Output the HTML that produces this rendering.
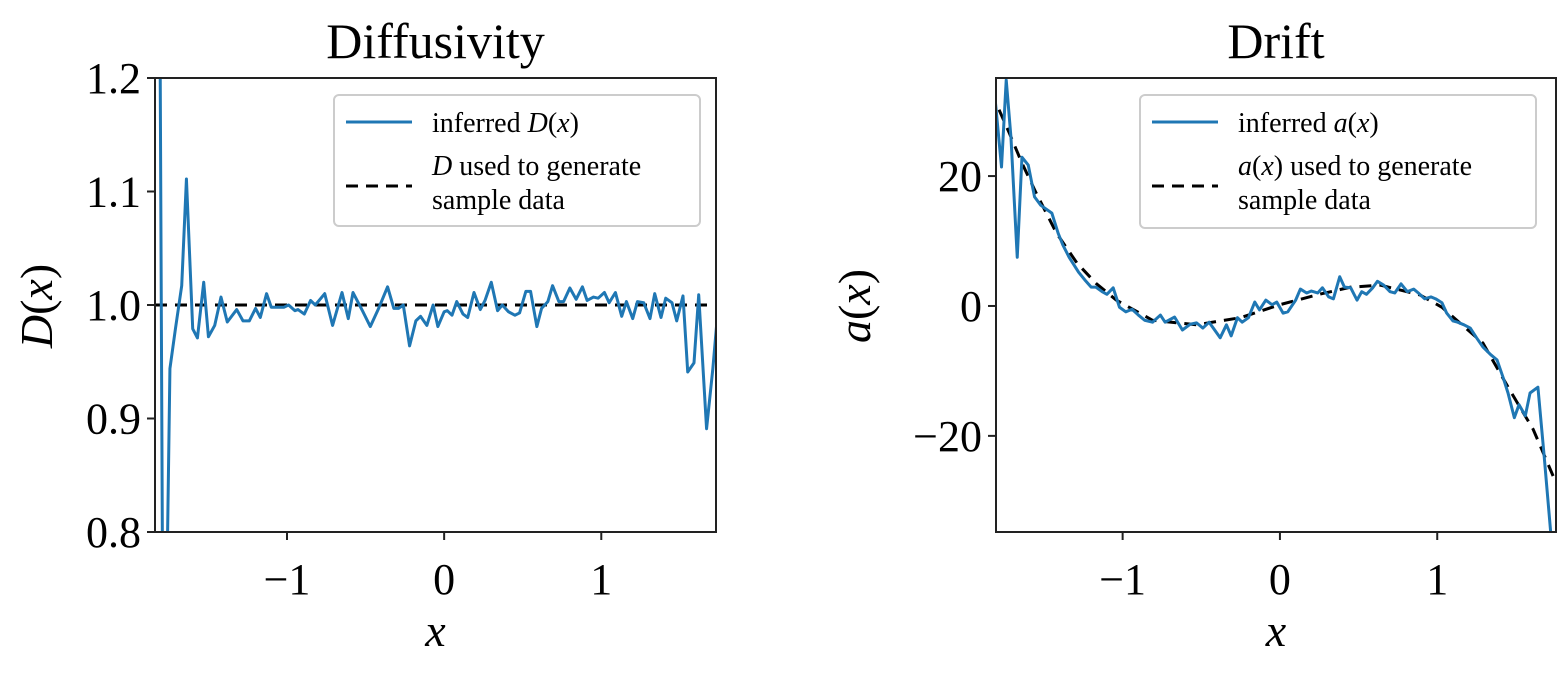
<!DOCTYPE html>
<html><head><meta charset="utf-8"><style>
html,body{margin:0;background:#fff;width:1568px;height:676px;overflow:hidden}
svg{display:block;font-family:"Liberation Serif",serif}
</style></head><body>
<svg id="svg" width="1568" height="676"></svg>
<script>
const dX=[-1.81,-1.79,-1.77,-1.745,-1.71,-1.67,-1.64,-1.60,-1.57,-1.53,-1.50,-1.46,-1.42,-1.38,-1.32,-1.28,-1.24,-1.20,-1.17,-1.13,-1.10,-1.05,-1.02,-0.99,-0.95,-0.93,-0.89,-0.85,-0.82,-0.76,-0.71,-0.65,-0.61,-0.58,-0.52,-0.47,-0.42,-0.36,-0.32,-0.29,-0.26,-0.22,-0.18,-0.15,-0.11,-0.07,-0.04,0.0,0.02,0.05,0.08,0.12,0.15,0.19,0.23,0.26,0.30,0.34,0.37,0.41,0.45,0.48,0.52,0.55,0.59,0.62,0.66,0.69,0.73,0.76,0.80,0.84,0.88,0.91,0.95,0.98,1.02,1.05,1.09,1.13,1.16,1.20,1.23,1.27,1.31,1.34,1.38,1.41,1.45,1.48,1.52,1.55,1.59,1.62,1.67,1.71,1.74];
const dY=[1.3,0.7,0.7,0.944,0.979,1.017,1.111,0.979,0.971,1.020,0.972,0.982,1.007,0.985,0.996,0.986,0.986,0.997,0.989,1.010,0.998,0.998,0.998,1.0,0.995,0.996,0.992,1.004,1.0,1.010,0.982,1.011,0.988,1.011,0.995,0.981,0.996,1.016,0.997,0.997,1.0,0.964,0.986,0.990,0.982,1.0,0.981,0.994,0.995,0.991,1.003,0.992,0.989,1.011,0.996,1.004,1.020,0.995,1.0,0.994,0.991,0.993,1.012,1.012,0.981,0.997,1.003,1.017,1.003,1.003,1.015,1.005,1.016,1.004,1.007,1.006,1.011,1.002,1.011,0.990,1.003,0.988,1.003,1.002,0.988,1.010,0.989,1.006,1.002,0.986,1.008,0.941,0.949,1.009,0.891,0.944,0.992];
const dTrueX=[-1.84,1.73];
const dTrueY=[1.0,1.0];
const aX=[-1.81,-1.77,-1.74,-1.71,-1.67,-1.64,-1.60,-1.56,-1.52,-1.45,-1.41,-1.38,-1.34,-1.28,-1.24,-1.20,-1.17,-1.13,-1.10,-1.06,-1.02,-0.98,-0.94,-0.90,-0.86,-0.81,-0.76,-0.73,-0.67,-0.62,-0.57,-0.53,-0.49,-0.45,-0.38,-0.34,-0.31,-0.27,-0.24,-0.20,-0.16,-0.13,-0.09,-0.05,-0.02,0.02,0.05,0.10,0.13,0.17,0.20,0.24,0.27,0.31,0.34,0.38,0.41,0.45,0.49,0.52,0.55,0.59,0.62,0.66,0.70,0.73,0.77,0.81,0.85,0.88,0.92,0.96,0.99,1.03,1.06,1.10,1.13,1.17,1.21,1.25,1.29,1.34,1.38,1.42,1.45,1.49,1.52,1.56,1.59,1.64,1.68,1.72,1.74];
const aY=[31.7,21.4,34.8,26,7.5,22.9,21.7,16.8,15.5,14.3,11.2,9.4,7.5,5.2,4.0,2.9,2.9,2.2,1.8,2.8,-0.2,-0.9,-0.5,-1.4,-2.2,-2.5,-1.4,-2.5,-1.7,-3.7,-2.8,-2.6,-3.4,-2.5,-4.9,-2.9,-4.6,-1.8,-2.5,-1.8,0.6,-0.6,0.9,0.2,0.6,-1.1,-0.9,0.9,2.6,2.0,2.3,2.0,2.8,1.4,1.1,4.5,2.9,2.8,0.9,2.2,1.8,2.8,3.8,3.2,2.2,2.0,3.4,2.2,2.6,2.0,1.1,1.4,1.1,0.5,-1.1,-2.3,-2.5,-2.9,-3.4,-4.9,-6.3,-7.5,-8.3,-11.1,-13.4,-17.2,-15.2,-16.9,-13.4,-12.5,-23.2,-34.5,-40];
const aTrueX=[-1.84,-1.80,-1.72,-1.64,-1.55,-1.42,-1.29,-1.17,-1.04,-0.81,-0.53,-0.25,0,0.25,0.45,0.64,0.89,1.03,1.29,1.46,1.61,1.76];
const aTrueY=[33,31,26.6,22,17.4,11.2,6.6,3.5,0.9,-2.2,-2.9,-1.8,0.2,1.8,2.9,3.2,1.7,-0.2,-5.7,-12.9,-19,-27.5];
const dTicks=[0.8,0.9,1.0,1.1,1.2], dTickLbl=["0.8","0.9","1.0","1.1","1.2"];
const aTicks=[-20,0,20], aTickLbl=["\u221220","0","20"];
const xTicks=[-1,0,1], xTickLbl=["\u22121","0","1"];

const NS="http://www.w3.org/2000/svg", svg=document.getElementById('svg');
function mk(t,a,p){const e=document.createElementNS(NS,t);for(const k in a)e.setAttribute(k,a[k]);(p||svg).appendChild(e);return e;}
function panel(o){
  const g=mk('g',{});
  
  
  const sx=v=>o.x0+(v-o.xmin)/(o.xmax-o.xmin)*(o.x1-o.x0);
  const sy=v=>o.y1-(v-o.ymin)/(o.ymax-o.ymin)*(o.y1-o.y0);
  const cid='clip'+o.name;
  const cp=mk('clipPath',{id:cid},g);mk('rect',{x:o.x0,y:o.y0,width:o.x1-o.x0,height:o.y1-o.y0},cp);
  const tr=mk('polyline',{points:o.tx.map((v,i)=>sx(v)+','+sy(o.ty[i])).join(' '),fill:'none',stroke:'#000','stroke-width':3,'stroke-dasharray':'12,8','clip-path':`url(#${cid})`},g);
  
  
  const ln=mk('polyline',{points:o.dx.map((v,i)=>sx(v)+','+sy(o.dy[i])).join(' '),fill:'none',stroke:'#1f77b4','stroke-width':3,'stroke-linejoin':'round','clip-path':`url(#${cid})`},g);
  
  
  mk('rect',{x:o.x0,y:o.y0,width:o.x1-o.x0,height:o.y1-o.y0,fill:'none',stroke:'#222','stroke-width':2},g);
  o.yt.forEach((v,i)=>{const y=sy(v);mk('line',{x1:o.x0-8,x2:o.x0,y1:y,y2:y,stroke:'#222','stroke-width':2},g);
    const t=mk('text',{x:o.x0-14,y:y+15,'text-anchor':'end','font-size':44},g);t.textContent=o.ytl[i];
    
    });
  xTicks.forEach((v,i)=>{const x=sx(v);mk('line',{x1:x,x2:x,y1:o.y1,y2:o.y1+8,stroke:'#222','stroke-width':2},g);
    const t=mk('text',{x:x,y:o.y1+62,'text-anchor':'middle','font-size':44},g);t.textContent=xTickLbl[i];
    
    });
  const cx=(o.x0+o.x1)/2;
  let t=mk('text',{x:cx,y:58,'text-anchor':'middle','font-size':50},g);t.textContent=o.title;
  
  
  t=mk('text',{x:cx,y:646,'text-anchor':'middle','font-size':46,'font-style':'italic'},g);t.textContent='x';
  
  
  t=mk('text',{x:0,y:0,'text-anchor':'middle','font-size':46,transform:`translate(${o.ylx},306) rotate(-90)`},g);
  t.innerHTML=`<tspan font-style="italic">${o.yl}</tspan>(<tspan font-style="italic">x</tspan>)`;
  
  
  const L=o.leg, lg=mk('g',{},g);
  
  
  mk('rect',{x:L[0],y:L[1],width:L[2],height:L[3],rx:5,fill:'#fff',stroke:'#ccc','stroke-width':2},lg);
  mk('line',{x1:L[0]+12,x2:L[0]+78,y1:L[1]+27,y2:L[1]+27,stroke:'#1f77b4','stroke-width':3},lg);
  mk('line',{x1:L[0]+12,x2:L[0]+78,y1:L[1]+91,y2:L[1]+91,stroke:'#000','stroke-width':3,'stroke-dasharray':'12,8'},lg);
  t=mk('text',{x:L[0]+98,y:L[1]+37,'font-size':28},lg);t.innerHTML=o.l1;
  t=mk('text',{x:L[0]+98,y:L[1]+80,'font-size':28},lg);t.innerHTML=o.l2;
  t=mk('text',{x:L[0]+98,y:L[1]+114,'font-size':28},lg);t.textContent='sample data';
}
panel({name:'diffusivity-panel',x0:155,x1:716,y0:78,y1:532,xmin:-1.84,xmax:1.73,ymin:0.8,ymax:1.2,
  dx:dX,dy:dY,tx:dTrueX,ty:dTrueY,yt:dTicks,ytl:dTickLbl,title:'Diffusivity',yl:'D',ylx:52,
  leg:[334,95,366,131],l1:'inferred <tspan font-style="italic">D</tspan>(<tspan font-style="italic">x</tspan>)',
  l2:'<tspan font-style="italic">D</tspan> used to generate'});
panel({name:'drift-panel',x0:996,x1:1556,y0:78,y1:532,xmin:-1.805,xmax:1.755,ymin:-34.8,ymax:35.1,
  dx:aX,dy:aY,tx:aTrueX,ty:aTrueY,yt:aTicks,ytl:aTickLbl,title:'Drift',yl:'a',ylx:870,
  leg:[1140,95,396,133],l1:'inferred <tspan font-style="italic">a</tspan>(<tspan font-style="italic">x</tspan>)',
  l2:'<tspan font-style="italic">a</tspan>(<tspan font-style="italic">x</tspan>) used to generate'});
</script>
</body></html>
